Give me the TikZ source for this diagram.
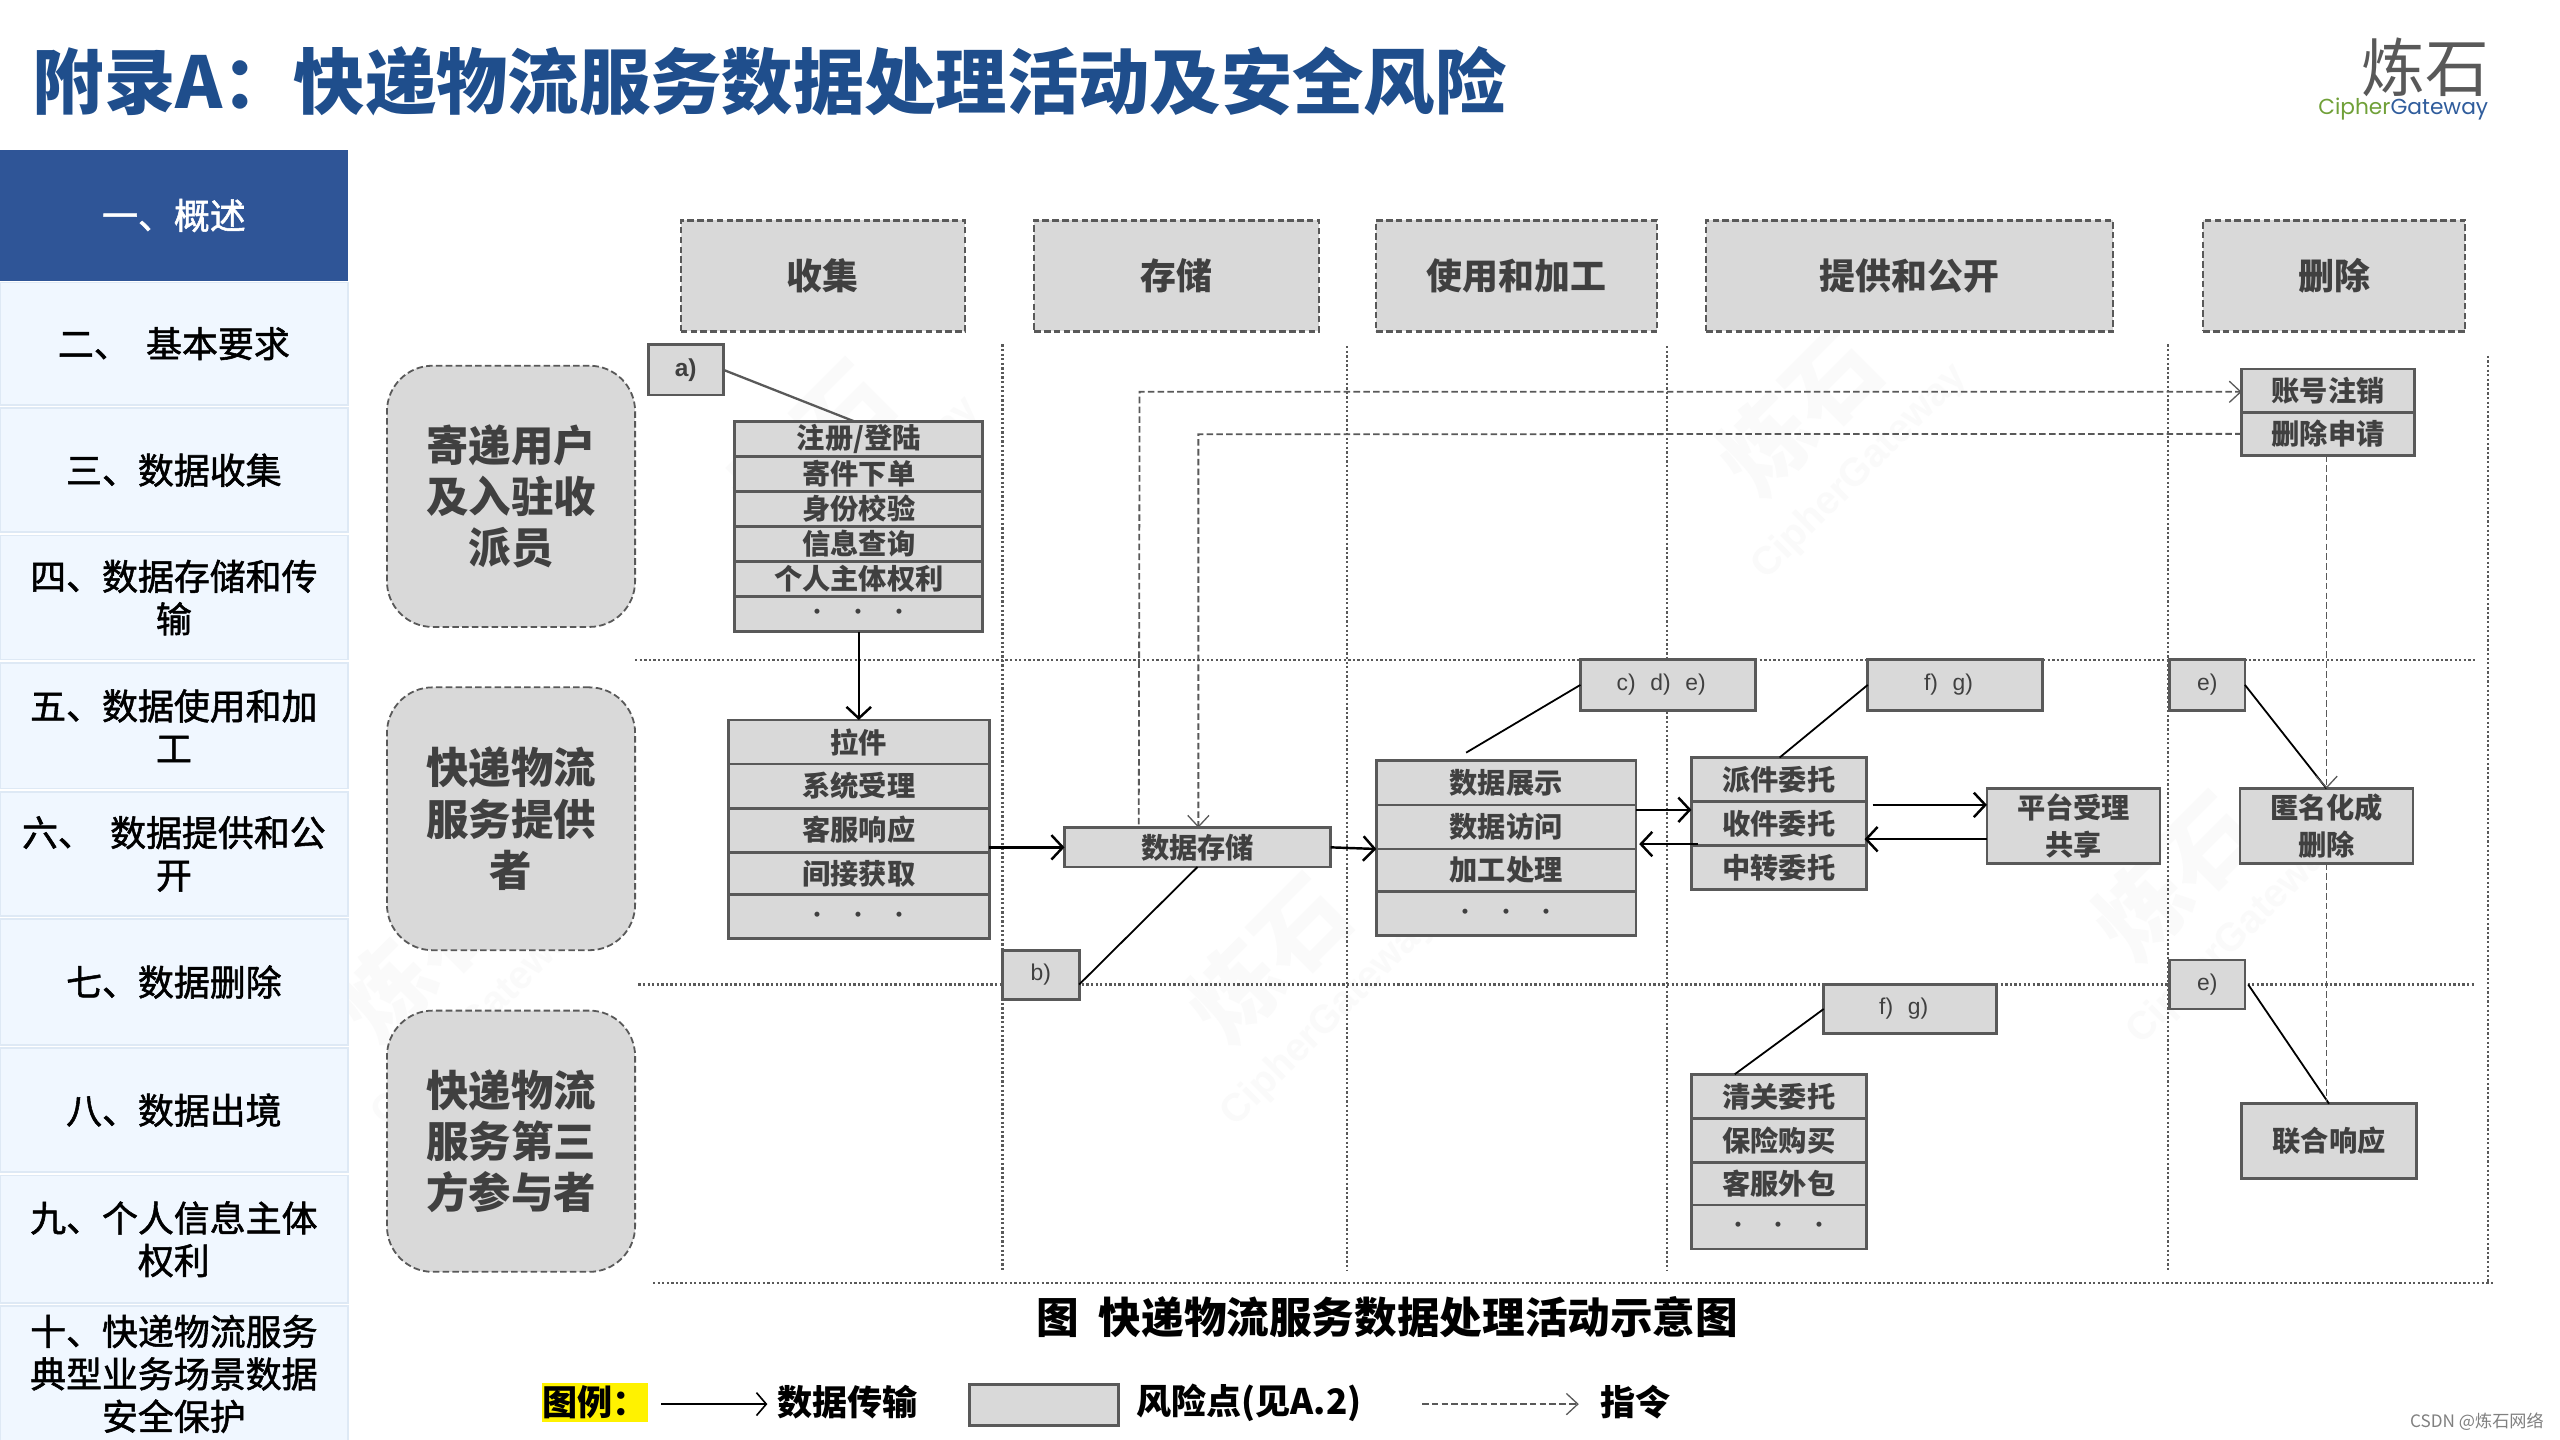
\documentclass[tikz,border=0pt]{standalone}
\usepackage{fontspec}
\setmainfont{Noto Sans CJK SC}
\newfontfamily\latinf{Liberation Sans}
\newfontfamily\medf[FakeBold=1.5]{Noto Sans CJK SC}
\newfontfamily\logof{Poppins}
\usetikzlibrary{arrows.meta,calc}
\definecolor{navy}{HTML}{2F5597}
\definecolor{titleblue}{HTML}{1F4E8C}
\definecolor{pale}{HTML}{F0F7FF}
\definecolor{paleedge}{HTML}{DEE9F5}
\definecolor{boxfill}{HTML}{D9D9D9}
\definecolor{boxedge}{HTML}{595959}
\definecolor{boxtext}{HTML}{404040}
\definecolor{wm}{HTML}{FAFAFA}
\newcommand{\fs}[2]{\fontsize{#1pt}{#2pt}\selectfont}
\newcommand{\RB}[7][]{%
  \pgfmathsetmacro{\rbw}{#5-#3}\pgfmathsetmacro{\rbh}{#6-#4}%
  \pgfmathsetmacro{\rbx}{(#3+#5)/2}\pgfmathsetmacro{\rby}{(#4+#6)/2}%
  \node[minimum width=\rbw pt,minimum height=\rbh pt,#1] (#2) at (\rbx,\rby) {#7};}
\tikzset{
  x=1pt,y=-1pt,
  base/.style={inner sep=0pt,outer sep=0pt,align=center},
  navitem/.style={base,fill=pale,draw=paleedge,line width=1pt,text=black,font=\medf\fs{22}{26}},
  navhead/.style={base,fill=navy,text=white,font=\medf\fs{22}{26}},
  phasebox/.style={base,fill=boxfill,draw=boxedge,line width=1.4pt,dash pattern=on 4pt off 2pt,text=boxtext,font=\bfseries\fs{22}{26}},
  rolebox/.style={base,fill=boxfill,draw=boxedge,line width=1.1pt,dash pattern=on 4pt off 2pt,rounded corners=28pt,text=boxtext,font=\bfseries\fs{26}{31.5}},
  rowbox/.style={base,fill=boxfill,draw=boxedge,line width=1.7pt,text=boxtext,font=\bfseries\fs{17.3}{21}},
  riskbox/.style={base,fill=boxfill,draw=boxedge,line width=1.7pt,text=boxtext,font=\latinf\fs{14}{16}},
  gridline/.style={draw=boxedge,line width=1.3pt,dash pattern=on 1.4pt off 1.4pt},
  flow/.style={draw=black,line width=1.5pt,-{Straight Barb[length=7pt,width=15pt,line width=1.5pt]}},
  risklink/.style={draw=black,line width=1.1pt},
  risklinkg/.style={draw=boxedge,line width=1.4pt},
  cmd/.style={draw=boxedge,line width=1.1pt,dash pattern=on 4pt off 2pt},
  cmdarrow/.style={cmd,-{Straight Barb[length=7pt,width=13pt,line width=.8pt]}},
  legendtext/.style={base,text=black,font=\bfseries\fs{21.5}{26}},
  wmark/.style={base,text=wm,rotate=45,font=\bfseries\fs{56}{36}},
}
\newcommand{\dotsrow}{{\fs{11}{12}·\hspace{14pt}·\hspace{14pt}·}}
\newcommand{\wmtext}{炼石\\[2pt]{\latinf\fs{24}{26}CipherGateway}}
\begin{document}
\begin{tikzpicture}
\useasboundingbox (0,0) rectangle (1568,882);
\fill[white] (0,0) rectangle (1568,882);

% watermarks
\node[wmark] (wm1) at (510,285) {\wmtext};
\node[wmark] (wm2) at (270,600) {\wmtext};
\node[wmark] (wm3) at (790,600) {\wmtext};
\node[wmark] (wm4) at (1115,265) {\wmtext};
\node[wmark] (wm5) at (1345,550) {\wmtext};

% title and logo
\node[base,anchor=west,text=titleblue,font=\bfseries\fs{43.7}{50}] (title) at (20,50) {附录A：快递物流服务数据处理活动及安全风险};
\node[base,text=boxedge,font=\fs{39}{42}] (logocn) at (1485.5,41) {炼石};
\node[base,anchor=east,font=\logof\fs{13.3}{16}] (logoen) at (1524,67) {\textcolor[HTML]{70A038}{Cipher}\textcolor[HTML]{2F5C9C}{Gateway}};

% sidebar
\RB[navhead]{n1}{0}{92}{213}{172}{一、概述}
\RB[navitem]{n2}{0}{173}{213}{248}{二、\hspace{10pt}基本要求}
\RB[navitem]{n3}{0}{250}{213}{326}{三、数据收集}
\RB[navitem]{n4}{0}{328}{213}{404}{四、数据存储和传\\输}
\RB[navitem]{n5}{0}{406}{213}{483}{五、数据使用和加\\工}
\RB[navitem]{n6}{0}{485}{213}{561}{六、\hspace{10pt}数据提供和公\\开}
\RB[navitem]{n7}{0}{563}{213}{640}{七、数据删除}
\RB[navitem]{n8}{0}{642}{213}{718}{八、数据出境}
\RB[navitem]{n9}{0}{720}{213}{798}{九、个人信息主体\\权利}
\RB[navitem]{n10}{0}{800}{213}{883}{十、快递物流服务\\典型业务场景数据\\安全保护}

% grid
\coordinate (gv1t) at (614,211); \coordinate (gv1b) at (614,778);
\coordinate (gv2t) at (825,212); \coordinate (gv2b) at (825,778);
\coordinate (gv3t) at (1021,212); \coordinate (gv3b) at (1021,778);
\coordinate (gv4t) at (1328,211); \coordinate (gv4b) at (1328,778);
\coordinate (gv5t) at (1524,218); \coordinate (gv5b) at (1524,786);
\coordinate (gh1l) at (389,404); \coordinate (gh1r) at (1516,404);
\coordinate (gh2l) at (391,603); \coordinate (gh2r) at (1516,603);
\coordinate (gh3l) at (400,786); \coordinate (gh3r) at (1527,786);
\foreach \a/\b in {gv1t/gv1b,gv2t/gv2b,gv3t/gv3b,gv4t/gv4b,gv5t/gv5b,gh1l/gh1r,gh2l/gh2r,gh3l/gh3r}
  \draw[gridline] (\a) -- (\b);

% phase headers
\RB[phasebox]{p1}{417}{135}{591}{203}{收集}
\RB[phasebox]{p2}{633.5}{135}{808}{203}{存储}
\RB[phasebox]{p3}{843}{135}{1015}{203}{使用和加工}
\RB[phasebox]{p4}{1045}{135}{1294}{203}{提供和公开}
\RB[phasebox]{p5}{1349.5}{135}{1510}{203}{删除}

% roles
\RB[rolebox]{r1}{237}{224}{389}{384}{寄递用户\\及入驻收\\派员}
\RB[rolebox]{r2}{237}{421}{389}{582}{快递物流\\服务提供\\者}
\RB[rolebox]{r3}{237}{619}{389}{779}{快递物流\\服务第三\\方参与者}

% stack 1
\RB[rowbox]{a1}{450}{258}{602}{279.5}{注册/登陆}
\RB[rowbox]{a2}{450}{279.5}{602}{301}{寄件下单}
\RB[rowbox]{a3}{450}{301}{602}{322.5}{身份校验}
\RB[rowbox]{a4}{450}{322.5}{602}{344}{信息查询}
\RB[rowbox]{a5}{450}{344}{602}{365.5}{个人主体权利}
\RB[rowbox]{a6}{450}{365.5}{602}{387}{\dotsrow}
% stack 2
\RB[rowbox]{b1}{446}{441}{606}{468}{拉件}
\RB[rowbox]{b2}{446}{468}{606}{495}{系统受理}
\RB[rowbox]{b3}{446}{495}{606}{522}{客服响应}
\RB[rowbox]{b4}{446}{522}{606}{548}{间接获取}
\RB[rowbox]{b5}{446}{548}{606}{575}{\dotsrow}
% storage
\RB[rowbox]{store}{652}{507}{815}{531}{数据存储}
% stack 3
\RB[rowbox]{c1}{843}{466}{1002}{493}{数据展示}
\RB[rowbox]{c2}{843}{493}{1002}{520}{数据访问}
\RB[rowbox]{c3}{843}{520}{1002}{546}{加工处理}
\RB[rowbox]{c4}{843}{546}{1002}{573}{\dotsrow}
% stack 4
\RB[rowbox]{d1}{1036}{464}{1143}{491}{派件委托}
\RB[rowbox]{d2}{1036}{491}{1143}{518}{收件委托}
\RB[rowbox]{d3}{1036}{518}{1143}{545}{中转委托}
\RB[rowbox,font=\bfseries\fs{17.3}{23}]{plat}{1217}{483}{1323}{529}{平台受理\\共享}
% stack 5
\RB[rowbox]{e1}{1036}{658}{1143}{685}{清关委托}
\RB[rowbox]{e2}{1036}{685}{1143}{712}{保险购买}
\RB[rowbox]{e3}{1036}{712}{1143}{738}{客服外包}
\RB[rowbox]{e4}{1036}{738}{1143}{765}{\dotsrow}
% deletion
\RB[rowbox]{del1}{1373}{226}{1479}{252.5}{账号注销}
\RB[rowbox]{del2}{1373}{252.5}{1479}{279}{删除申请}
\RB[rowbox,font=\bfseries\fs{17.3}{23}]{anon}{1372}{483}{1478}{529}{匿名化成\\删除}
\RB[rowbox]{joint}{1373}{676}{1480}{722}{联合响应}

% risk boxes
\RB[riskbox,font=\latinf\bfseries\fs{15}{16}]{ra}{397}{211}{443}{242}{a)}
\RB[riskbox]{rb}{614}{582}{661}{612}{b)}
\RB[riskbox]{rc}{968}{404}{1075}{435}{c)\hspace{9pt}d)\hspace{9pt}e)\hspace{8pt}}
\RB[riskbox]{rf}{1144}{404}{1251}{435}{f)\hspace{9pt}g)\hspace{8pt}}
\RB[riskbox]{re}{1329}{404}{1375}{435}{e)}
\RB[riskbox]{re2}{1329}{588}{1375}{618}{e)}
\RB[riskbox]{rf2}{1117}{603}{1223}{633}{f)\hspace{9pt}g)\hspace{8pt}}

% risk links
\coordinate (rcend) at (898,461);
\draw[risklinkg] (ra.east) -- ([xshift=-3pt]a1.north);
\draw[risklink] ([yshift=-6pt]rb.east) -- (store.south);
\draw[risklink] (rc.west) -- (rcend);
\draw[risklink] (rf.west) -- ([xshift=0.5pt]d1.north);
\draw[risklink] (re.east) -- (anon.north);
\draw[risklink] ([xshift=2pt]re2.east) -- (joint.north);
\draw[risklink] (rf2.west) -- ([xshift=-27pt]e1.north);

% flows
\draw[flow] (a6.south) -- (b1.north);
\draw[flow] (b3.south east) ++(0,-3) -- ++(46,0);
\draw[flow] (store.east) -- (c2.south west);
\draw[flow] (c2.north east) ++(0,3) -- (d1.south west |- 0,496);
\draw[flow] (d2.west |- 0,517) ++(4,0) -- (1004,517);
\draw[flow] (1147,493) -- (plat.west |- 0,493);
\draw[flow] (plat.west |- 0,514) -- (1142,514);

% commands
\coordinate (c1top) at (698,240);
\coordinate (c2top) at (734,266);
\draw[cmdarrow] ([xshift=-36pt,yshift=2pt]store.north) -- (c1top) -- (del1.south west |- c1top);
\draw[cmdarrow] (del2.west) -- (c2top) -- (store.north -| c2top);
\draw[cmdarrow] (del2.south -| anon.north) -- (anon.north);
\draw[cmd] (anon.south) -- (joint.north -| anon.south);

% caption
\node[base,anchor=west,text=black,font=\bfseries\fs{26.1}{30}] (cap) at (635,807) {图\hspace{12pt}快递物流服务数据处理活动示意图};

% legend
\RB[base,fill=yellow,text=black,font=\bfseries\fs{21.5}{26}]{lg}{332}{847}{397}{871}{图例：}
\coordinate (la1) at (405,860); \coordinate (la2) at (470,860);
\draw[draw=black,line width=1pt,-{Straight Barb[length=6pt,width=14pt,line width=1pt]}] (la1) -- (la2);
\node[legendtext,anchor=west] (lt1) at (476,859) {数据传输};
\RB[base,fill=boxfill,draw=boxedge,line width=1.7pt]{lbox}{594}{848}{685}{873}{}
\node[legendtext,anchor=west] (lt2) at (696,859) {风险点(见A.2)};
\coordinate (lc1) at (871,860); \coordinate (lc2) at (967,860);
\draw[cmdarrow] (lc1) -- (lc2);
\node[legendtext,anchor=west] (lt3) at (980,859) {指令};

% credit
\node[base,anchor=east,text=gray,font=\fs{10.5}{12}] (credit) at (1558,871) {CSDN @炼石网络};
\end{tikzpicture}
\end{document}
